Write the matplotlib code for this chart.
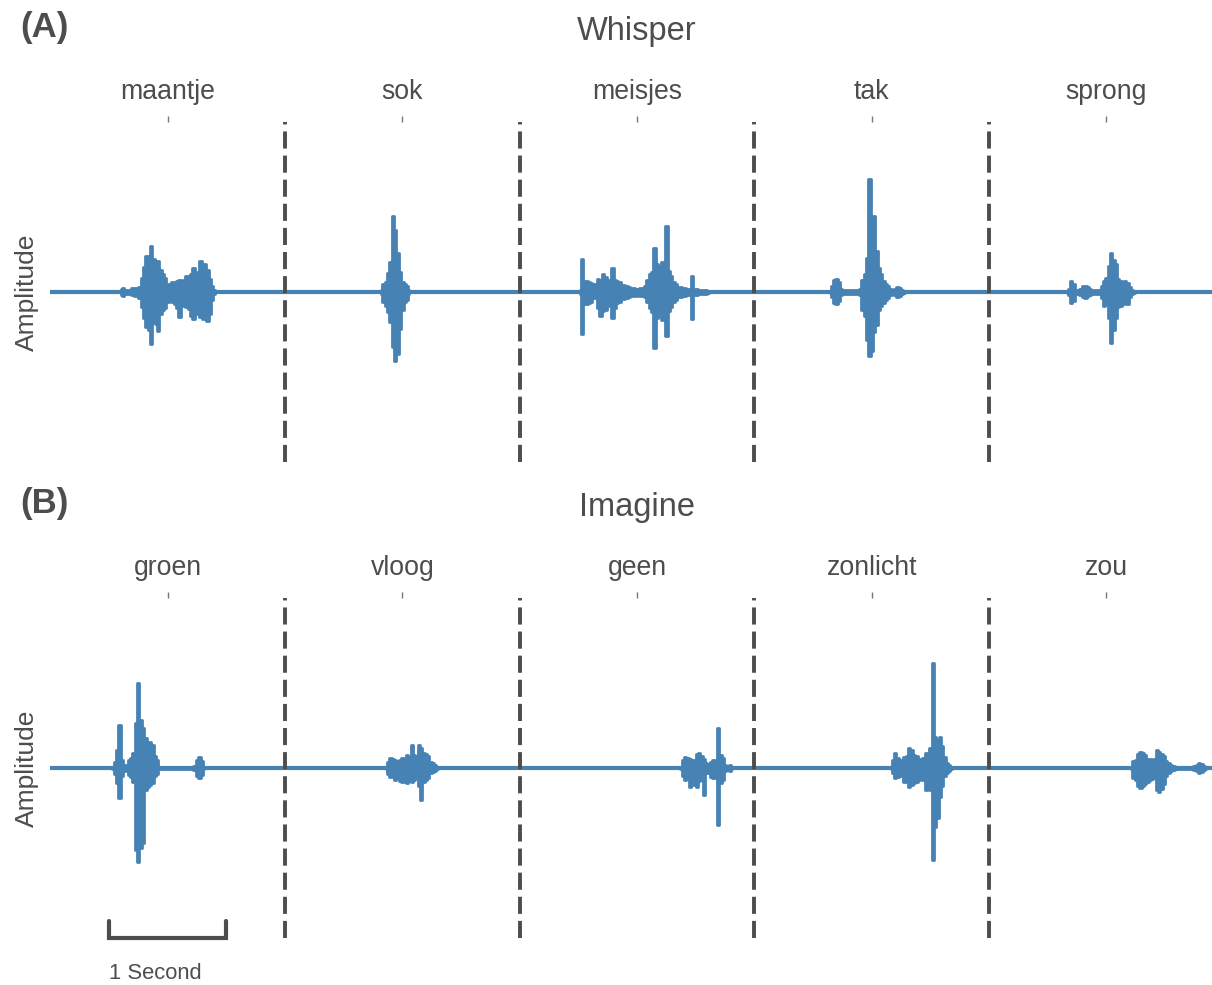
import numpy as np
import matplotlib.pyplot as plt

plt.rcParams['font.family'] = ['Liberation Sans', 'DejaVu Sans']

GREY = '#4d4d4d'
WAVE = '#4682b4'

DT = 0.02                      # envelope sample spacing, seconds
SEGMENT = 2.0                  # each word sits in a 2 s window
T_END = 10.0
SCALE_BAR = (0.5, 1.5)         # 1 second reference bar
YLIM = 170

whisper_words = ['maantje', 'sok', 'meisjes', 'tak', 'sprong']
imagine_words = ['groen', 'vloog', 'geen', 'zonlicht', 'zou']

# onset of each word's envelope (s)
whisper_onsets = [0.60, 2.82, 4.51, 6.64, 8.66]
imagine_onsets = [0.53, 2.86, 5.37, 7.16, 9.21]

# upper / lower amplitude envelopes, sampled every DT
maantje_hi = [3, 4, 2, 2, 2, 4, 4, 3,
              5, 14, 25, 36, 34, 46, 33, 30, 31, 22, 18, 14, 8, 7, 10, 9, 11, 12,
              10, 12, 16, 13, 18, 24, 14, 20, 31, 26, 28, 22, 13, 6, 2]
maantje_lo = [-3, -4, -2, -2, -2, -3, -4, -3,
              -6, -15, -26, -35, -38, -52, -30, -32, -39, -22, -18, -16, -10, -9, -10,
              -12, -16, -25, -14, -13, -15, -17, -24, -27, -18, -22, -25, -27, -23, -29,
              -22, -8, -2]

sok_hi = [2, 8, 10, 19, 30, 76, 62, 39, 20, 10, 8, 6, 2]
sok_lo = [-2, -10, -14, -20, -30, -55, -69, -62, -37, -18, -10, -8, -2]

meisjes_hi = [2, 33, 6, 11, 10, 9, 8, 7, 13, 12, 18, 15, 12, 10, 24, 12, 11, 10, 7, 7,
              6, 5, 4, 4, 3, 3, 4, 4, 6, 12, 18, 20, 44, 28, 26, 30, 25, 66, 21, 16,
              10, 8, 5, 5, 4, 4, 3, 3, 16, 3, 3, 2, 2, 2, 2, 1]
meisjes_lo = [-2, -42, -8, -12, -11, -10, -6, -6, -16, -24, -19, -18, -14, -11, -26, -16,
              -11, -10, -7, -7, -6, -5, -4, -4, -4, -3, -4, -3, -5, -10, -16, -20, -56,
              -26, -24, -28, -22, -44, -19, -15, -10, -8, -5, -5, -4, -4, -3, -3, -27,
              -3, -3, -2, -2, -2, -2, -1]

tak_hi = [1, 6, 12, 13, 10, 3, 2, 2, 2, 2, 2, 2, 2, 3, 12, 18, 34, 113, 51, 76, 41, 24,
          18, 11, 8, 6, 3, 2, 3, 5, 4, 2, 1]
tak_lo = [-1, -5, -11, -12, -9, -3, -2, -2, -2, -2, -2, -2, -2, -3, -18, -24, -48, -64,
          -59, -40, -33, -18, -14, -11, -8, -6, -3, -2, -3, -5, -4, -2, -1]

sprong_hi = [1, 3, 11, 8, 2, 2, 3, 6, 6, 5, 3, 2, 2, 2, 2, 6, 11, 14, 26, 39, 32, 28, 13,
             11, 10, 11, 9, 5, 2, 1]
sprong_lo = [-1, -3, -11, -9, -2, -2, -3, -5, -6, -4, -3, -2, -2, -2, -2, -6, -14, -12,
             -26, -51, -38, -26, -15, -14, -12, -10, -12, -5, -2, -1]

groen_hi = [1, 6, 18, 43, 8, 2, 3, 8, 10, 15, 45, 85, 48, 40, 30, 25, 26, 23, 12, 8, 1,
            1, 1, 1, 1, 1, 1, 1, 1, 1, 1, 1, 1, 1, 1, 2, 8, 11, 7, 1]
groen_lo = [-1, -6, -15, -30, -8, -2, -3, -7, -9, -14, -82, -94, -80, -75, -22, -19, -17,
            -15, -8, -6, -1, -1, -1, -1, -1, -1, -1, -1, -1, -1, -1, -1, -1, -1, -1, -2,
            -8, -10, -7, -1]

vloog_hi = [1, 6, 10, 9, 8, 7, 8, 10, 9, 13, 11, 23, 13, 12, 23, 20, 15, 14, 12, 6, 5, 3, 1]
vloog_lo = [-1, -6, -9, -8, -12, -10, -13, -14, -12, -15, -13, -14, -12, -10, -18, -32,
            -14, -12, -10, -5, -4, -3, -1]

geen_hi = [1, 8, 11, 10, 9, 8, 8, 14, 15, 12, 9, 5, 4, 6, 8, 8, 40, 13, 10, 3, 2, 3, 1]
geen_lo = [-1, -8, -12, -11, -19, -16, -17, -19, -13, -12, -27, -5, -5, -9, -10, -10,
           -57, -15, -12, -3, -2, -3, -1]

zonlicht_hi = [1, 8, 15, 10, 8, 8, 11, 12, 20, 18, 13, 12, 8, 9, 10, 15, 14, 20, 105, 31,
               28, 31, 22, 11, 5, 3, 1]
zonlicht_lo = [-1, -5, -10, -9, -7, -8, -14, -12, -19, -17, -15, -14, -12, -10, -12, -22,
               -18, -22, -92, -59, -50, -29, -18, -8, -5, -3, -1]

zou_hi = [1, 7, 8, 14, 16, 15, 13, 9, 9, 8, 9, 18, 16, 14, 12, 7, 5, 3, 2, 1, 1,
          1, 1, 1, 1, 1, 1, 2, 3, 5, 4, 2, 1]
zou_lo = [-1, -10, -12, -18, -20, -18, -16, -14, -12, -11, -10, -22, -24, -21, -16, -8,
          -5, -3, -2, -1, -1, -1, -1, -1, -1, -1, -1, -2, -3, -5, -4, -2, -1]

whisper_env = [(maantje_hi, maantje_lo), (sok_hi, sok_lo), (meisjes_hi, meisjes_lo),
               (tak_hi, tak_lo), (sprong_hi, sprong_lo)]
imagine_env = [(groen_hi, groen_lo), (vloog_hi, vloog_lo), (geen_hi, geen_lo),
               (zonlicht_hi, zonlicht_lo), (zou_hi, zou_lo)]


def draw_panel(ax, title, words, onsets, envs, scale_bar=False):
    ax.axhline(0, color=WAVE, lw=3.0, zorder=2)
    for t0, (hi, lo) in zip(onsets, envs):
        t = t0 + DT * np.arange(len(hi))
        ax.fill_between(t, lo, hi, step='mid', color=WAVE, lw=2.0, zorder=3)

    for b in np.arange(SEGMENT, T_END, SEGMENT):
        ax.axvline(b, color=GREY, lw=2.8, linestyle=(0, (4.4, 1.8)), zorder=4)

    ax.set_xlim(0, T_END)
    ax.set_ylim(-YLIM, YLIM)
    centers = np.arange(len(words)) * SEGMENT + SEGMENT / 2
    ax.xaxis.tick_top()
    ax.set_xticks(centers, labels=words)
    ax.tick_params(axis='x', length=4.5, width=1.0, color='#777777', pad=7.5,
                   labelsize=19.2, labelcolor=GREY)
    ax.set_yticks([])
    for s in ax.spines.values():
        s.set_visible(False)
    ax.set_ylabel('Amplitude', fontsize=19, color=GREY, labelpad=8)
    ax.text(0.5, 1.265, title, transform=ax.transAxes, ha='center', va='center',
            fontsize=23.5, color=GREY)

    if scale_bar:
        x0, x1 = scale_bar
        ax.plot([x0, x0, x1, x1], [-YLIM + 17, -YLIM, -YLIM, -YLIM + 17],
                color=GREY, lw=3.0, clip_on=False, solid_capstyle='round',
                solid_joinstyle='miter')
        ax.text(x0, -0.104, '1 Second', transform=ax.get_xaxis_transform(),
                ha='left', va='center', fontsize=15.8, color=GREY)


fig = plt.figure(figsize=(12.12, 9.85), dpi=100)
W, H = 1212, 985
left, width = 50.3 / W, 1173.5 / W
ax_a = fig.add_axes([left, 1 - 462 / H, width, 340 / H])
ax_b = fig.add_axes([left, 1 - 938 / H, width, 340 / H])

draw_panel(ax_a, 'Whisper', whisper_words, whisper_onsets, whisper_env)
draw_panel(ax_b, 'Imagine', imagine_words, imagine_onsets, imagine_env,
           scale_bar=SCALE_BAR)

fig.text(20 / W, 1 - 28 / H, '(A)', fontsize=25, fontweight='bold', color=GREY,
         ha='left', va='center')
fig.text(20 / W, 1 - 504 / H, '(B)', fontsize=25, fontweight='bold', color=GREY,
         ha='left', va='center')

fig.savefig('out.png', dpi=100, facecolor='white')
